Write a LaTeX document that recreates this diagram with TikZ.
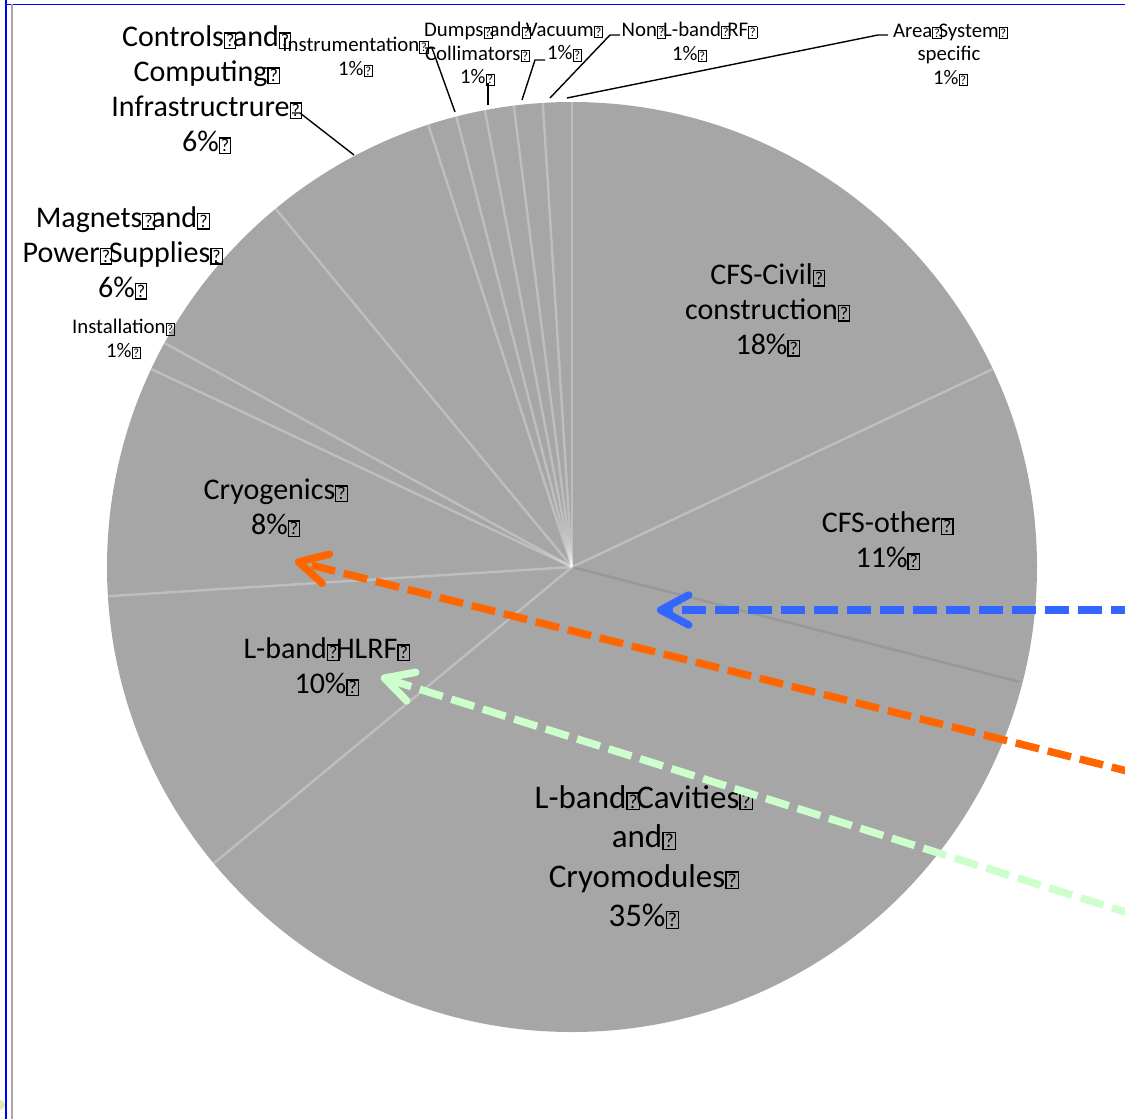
\documentclass[tikz,border=0pt]{standalone}
\usepackage{fontspec}
\usepackage{graphicx}
\setmainfont{Carlito}
\usetikzlibrary{arrows.meta}
\definecolor{piegray}{RGB}{166,166,166}
\definecolor{arrblue}{RGB}{51,102,255}
\definecolor{arrorange}{RGB}{255,102,0}
\definecolor{arrgreen}{RGB}{204,255,204}
\definecolor{frameblue}{RGB}{0,0,255}
\newcommand{\qq}{{\setlength\fboxsep{0.9pt}\setlength\fboxrule{0.04em}\makebox[0.3em][l]{\fbox{\scalebox{0.6}{?}}}}}
\begin{document}
\begin{tikzpicture}[x=1pt,y=-1pt,
  biglab/.style={align=center,inner sep=0pt,font=\fontsize{30}{35}\selectfont},
  cavlab/.style={align=center,inner sep=0pt,font=\fontsize{33}{39.5}\selectfont},
  smalllab/.style={align=center,inner sep=0pt,font=\fontsize{20.8}{23.5}\selectfont},
  leader/.style={draw=black,line width=1.4pt},
  sliceline/.style={draw=white,opacity=0.28,line width=2.4pt},
  pointer/.style={line width=7.5pt,dash pattern=on 24pt off 9pt,
     -{Straight Barb[length=28pt 0,width=30pt 0,line cap=round,line join=round]}}
]
\useasboundingbox (0,0) rectangle (1125,1119);
\fill[white] (0,0) rectangle (1125,1119);
% frame
\draw[frameblue,line width=2pt] (6,0) -- (6,1119);
\draw[frameblue,line width=1pt] (6,4) -- (1125,4);
\draw[gray!70,line width=1.5pt] (12,4) -- (12,1119);
\fill[yellow!60!green!60,opacity=0.6] (0,1105) circle (5);

% pie
\coordinate (C) at (572,567);
\fill[piegray] (C) circle (465);
\foreach \a in {90,25.2,-140.4,-176.4,154.8,151.2,129.6,108,104.4,100.8,97.2,93.6}
  \draw[sliceline] (C) -- ++(-\a:465);
\draw[black,opacity=0.08,line width=2.5pt] (C) -- ++(14.4:462);

% labels
\node[biglab] (ctrl) at (205,90) {Controls\qq and\qq\\ Computing\qq\\ Infrastructrure\qq\\ 6\%\qq};
\node[biglab] (civil) at (766,310) {CFS-Civil\qq\\ construction\qq\\ 18\%\qq};
\node[biglab] (other) at (886,541) {CFS-other\qq\\ 11\%\qq};
\node[biglab] (cryo) at (274,508) {Cryogenics\qq\\ 8\%\qq};
\node[biglab] (hlrf) at (325,667) {L-band\qq HLRF\qq\\ 10\%\qq};
\node[cavlab] (cav) at (642,857) {L-band\qq Cavities\qq\\ and\qq\\ Cryomodules\qq\\ 35\%\qq};
\node[biglab] (mag) at (121,253) {Magnets\qq and\qq\\ Power\qq Supplies\qq\\ 6\%\qq};
\node[smalllab] (inst) at (122,339) {Installation\qq\\ 1\%\qq};
\node[smalllab] (instr) at (354,57) {Instrumentation\qq\\ 1\%\qq};
\node[smalllab] (dump) at (476,54) {Dumps\qq and\qq\\ Collimators\qq\\ 1\%\qq};
\node[smalllab] (vac) at (563,42) {Vacuum\qq\\ 1\%\qq};
\node[smalllab] (nonl) at (688,42) {Non\qq L-band\qq RF\qq\\ 1\%\qq};
\node[smalllab] (area) at (949,55) {Area\qq System\qq\\ specific\\ 1\%\qq};

% leader lines
\coordinate (ctrlA) at (292,113); \coordinate (ctrlB) at (300,113); \coordinate (ctrlP) at (354,155);
\draw[leader] (ctrlA) -- (ctrlB) -- (ctrlP);
\coordinate (magA) at (215,262); \coordinate (magP) at (221,264);
\draw[leader] (magA) -- (magP);
\coordinate (instrA) at (425,48); \coordinate (instrB) at (432,48); \coordinate (instrP) at (455,112);
\draw[leader] (instrA) -- (instrB) -- (instrP);
\coordinate (dumpA) at (488,83); \coordinate (dumpP) at (488,105);
\draw[leader] (dumpA) -- (dumpP);
\coordinate (vacA) at (545,60); \coordinate (vacB) at (535,60); \coordinate (vacP) at (522,100);
\draw[leader] (vacA) -- (vacB) -- (vacP);
\coordinate (nonlA) at (620,35); \coordinate (nonlB) at (610,35); \coordinate (nonlP) at (550,98);
\draw[leader] (nonlA) -- (nonlB) -- (nonlP);
\coordinate (areaA) at (888,35); \coordinate (areaB) at (878,35); \coordinate (areaP) at (567,98);
\draw[leader] (areaA) -- (areaB) -- (areaP);

% dashed pointers
\coordinate (bS) at (1135,610); \coordinate (bT) at (657,610);
\coordinate (oS) at (1135,773); \coordinate (oT) at (295,561);
\coordinate (gS) at (1135,915); \coordinate (gT) at (381,677);
\draw[pointer,arrblue] (bS) -- (bT);
\draw[pointer,arrorange] (oS) -- (oT);
\draw[pointer,arrgreen] (gS) -- (gT);
\end{tikzpicture}
\end{document}
